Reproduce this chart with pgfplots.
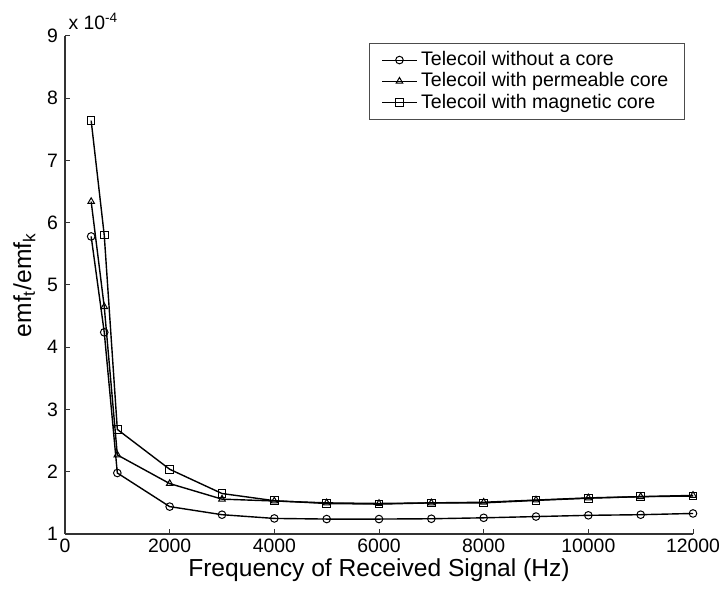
\documentclass[border=0pt]{standalone}
\usepackage{fontspec}
\setmainfont{Liberation Sans}
\usepackage{pgfplots}
\pgfplotsset{compat=1.18}
\begin{document}
\begin{tikzpicture}
\begin{axis}[
  scale only axis,
  width=314pt, height=249pt,
  xmin=0, xmax=12000, ymin=1, ymax=9,
  axis x line*=bottom, axis y line*=left,
  axis line style={-, line width=0.7pt, black!80},
  tick align=inside,
  major tick length=2.5pt,
  tick style={black!80, line width=0.5pt},
  xtick={0,2000,4000,6000,8000,10000,12000},
  ytick={1,2,3,4,5,6,7,8,9},
  scaled x ticks=false,
  /pgf/number format/.cd, 1000 sep={}, assume math mode=true,
  /pgfplots/.cd,
  ticklabel style={font=\fontsize{9.7}{11}\selectfont},
  xticklabel style={yshift=1pt},
  xlabel={Frequency of Received Signal (Hz)},
  ylabel={emf\textsubscript{t}/emf\textsubscript{k}},
  xlabel style={font=\fontsize{12.3}{14}\selectfont, yshift=4pt},
  ylabel style={font=\fontsize{12.3}{14}\selectfont, yshift=-1pt},
  legend style={at={(0.987,0.986)}, anchor=north east, font=\fontsize{9.8}{11}\selectfont,
    draw=black!70, line width=0.5pt, row sep=-2pt, inner xsep=6pt, inner ysep=2pt, cells={anchor=west}},
  legend image post style={line width=0.5pt},
  every axis plot/.append style={black, line width=0.7pt, mark size=1.9pt, mark options={solid, fill=white, line width=0.5pt}},
  clip=false,
]
\addplot[mark=o] coordinates {
(500,5.78) (750,4.24) (1000,1.98) (2000,1.44) (3000,1.31) (4000,1.25) (5000,1.24) (6000,1.24)
(7000,1.245) (8000,1.26) (9000,1.28) (10000,1.30) (11000,1.31) (12000,1.33)};
\addlegendentry{Telecoil without a core}
\addplot[mark=triangle] coordinates {
(500,6.34) (750,4.65) (1000,2.27) (2000,1.81) (3000,1.56) (4000,1.53) (5000,1.50) (6000,1.49)
(7000,1.50) (8000,1.51) (9000,1.545) (10000,1.58) (11000,1.60) (12000,1.62)};
\addlegendentry{Telecoil with permeable core}
\addplot[mark=square] coordinates {
(500,7.64) (750,5.80) (1000,2.68) (2000,2.04) (3000,1.65) (4000,1.535) (5000,1.49) (6000,1.48)
(7000,1.50) (8000,1.50) (9000,1.54) (10000,1.575) (11000,1.60) (12000,1.61)};
\addlegendentry{Telecoil with magnetic core}
\node[anchor=south west, font=\fontsize{9.7}{11}\selectfont, inner sep=0pt] at (rel axis cs:0.005,1.012) {x 10\textsuperscript{-4}};
\end{axis}
\pgfresetboundingbox
\path[use as bounding box] ([shift={(-32.5pt,-29pt)}]current axis.south west) rectangle ([shift={(16.5pt,18pt)}]current axis.north east);
\end{tikzpicture}
\end{document}
